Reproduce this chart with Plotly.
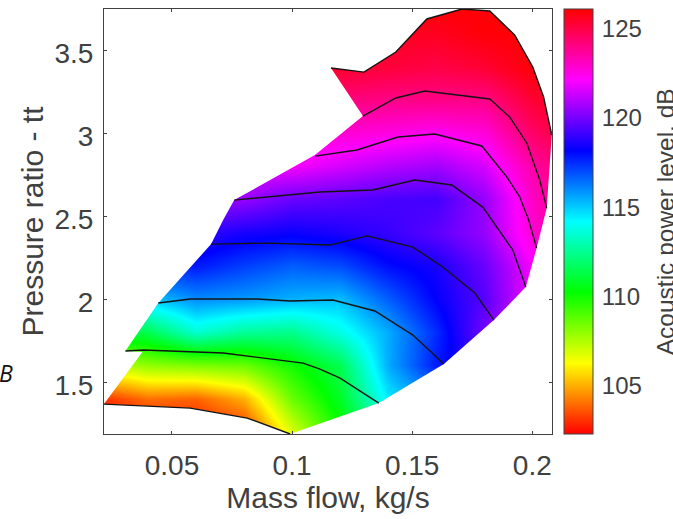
import plotly.graph_objects as go

TEXT = "#404040"
FONT = "Liberation Sans, Arial, sans-serif"

mass_flow_grid = [0.02, 0.04, 0.06, 0.08, 0.10, 0.12, 0.14, 0.16, 0.18, 0.20, 0.21]
pressure_grid = [1.2, 1.4, 1.6, 1.8, 2.0, 2.2, 2.4, 2.6, 2.8, 3.0, 3.2, 3.4, 3.6, 3.75]
power_level = [
    [102.5, 102.5, 102.5, 103.0, 106.8, 110.0, 112.0, 114.0, 116.0, 118.0, 120.0],
    [103.0, 104.0, 103.8, 105.0, 108.6, 110.8, 114.5, 116.0, 118.0, 120.0, 122.0],
    [107.0, 108.0, 108.3, 108.6, 110.0, 111.5, 115.5, 117.8, 119.0, 121.0, 122.5],
    [111.0, 111.5, 113.5, 112.6, 112.4, 113.8, 115.5, 117.5, 120.0, 122.0, 123.0],
    [114.0, 115.0, 116.0, 115.8, 115.4, 115.2, 116.7, 118.2, 119.5, 122.0, 123.0],
    [117.0, 117.5, 117.8, 117.2, 116.7, 117.0, 118.0, 118.5, 119.8, 122.0, 123.0],
    [119.0, 119.0, 119.0, 118.5, 118.3, 118.6, 119.0, 119.6, 120.5, 122.8, 123.5],
    [121.0, 120.5, 120.5, 120.5, 119.8, 119.6, 119.3, 119.2, 120.5, 123.0, 124.0],
    [122.0, 122.0, 122.0, 122.0, 122.0, 121.5, 121.0, 120.7, 121.5, 123.5, 124.2],
    [123.0, 123.0, 123.0, 123.0, 123.0, 122.8, 122.6, 122.3, 122.7, 124.5, 125.0],
    [124.0, 124.0, 124.0, 124.0, 124.0, 124.2, 124.0, 124.0, 124.0, 125.3, 125.5],
    [125.4, 125.4, 125.4, 125.4, 125.4, 125.4, 125.2, 125.0, 125.3, 126.0, 126.0],
    [125.6, 125.6, 125.6, 125.6, 125.6, 125.6, 125.6, 125.6, 126.0, 126.0, 126.0],
    [126.0, 126.0, 126.0, 126.0, 126.0, 126.0, 126.0, 126.0, 126.0, 126.0, 126.0],
]

# outline of the operating map
map_x = [0.0217, 0.0576, 0.0813, 0.0992, 0.1361, 0.1632, 0.1840, 0.1973, 0.2018, 0.2060,
         0.2081, 0.2047, 0.2002, 0.1927, 0.1823, 0.1707, 0.1561, 0.1432, 0.1299, 0.1162,
         0.1295, 0.1158, 0.1095, 0.0759, 0.0713, 0.0663, 0.0443, 0.0306, 0.0377, 0.0217]
map_y = [1.367, 1.343, 1.283, 1.187, 1.373, 1.608, 1.873, 2.072, 2.307, 2.548,
         2.988, 3.217, 3.398, 3.590, 3.735, 3.747, 3.687, 3.488, 3.367, 3.392,
         3.102, 2.940, 2.867, 2.596, 2.476, 2.331, 1.976, 1.687, 1.681, 1.367]

contours = [
    ([0.0217, 0.0576, 0.0813, 0.0992], [1.367, 1.343, 1.283, 1.187]),
    ([0.0306, 0.0381, 0.0713, 0.1046, 0.1116, 0.1200, 0.1361],
     [1.687, 1.693, 1.675, 1.614, 1.578, 1.524, 1.373]),
    ([0.0443, 0.0576, 0.0855, 0.0992, 0.1170, 0.1345, 0.1503, 0.1632],
     [1.976, 2.000, 2.000, 1.988, 1.994, 1.928, 1.783, 1.608]),
    ([0.0663, 0.0909, 0.1158, 0.1312, 0.1503, 0.1627, 0.1761, 0.1840],
     [2.331, 2.337, 2.325, 2.380, 2.313, 2.193, 2.036, 1.873]),
    ([0.0759, 0.1116, 0.1336, 0.1511, 0.1665, 0.1794, 0.1919, 0.1973],
     [2.596, 2.645, 2.657, 2.717, 2.687, 2.554, 2.295, 2.072]),
    ([0.1096, 0.1270, 0.1441, 0.1594, 0.1790, 0.1894, 0.1948, 0.1985, 0.2018],
     [2.861, 2.898, 2.976, 2.994, 2.922, 2.735, 2.614, 2.476, 2.307]),
    ([0.1295, 0.1432, 0.1553, 0.1823, 0.1906, 0.1977, 0.2031, 0.2060],
     [3.102, 3.211, 3.253, 3.205, 3.096, 2.940, 2.717, 2.548]),
    ([0.2081, 0.2047, 0.2002, 0.1927, 0.1823, 0.1707, 0.1561, 0.1432, 0.1299, 0.1162],
     [2.988, 3.217, 3.398, 3.590, 3.735, 3.747, 3.687, 3.488, 3.367, 3.392]),
]

x_range = [0.0217, 0.2082]
y_range = [1.187, 3.747]
z_range = [102.3, 126.1]
x_ticks = [0.05, 0.1, 0.15, 0.2]
x_labels = ["0.05", "0.1", "0.15", "0.2"]
y_ticks = [1.5, 2, 2.5, 3, 3.5]
y_labels = ["1.5", "2", "2.5", "3", "3.5"]
bar_ticks = [105, 110, 115, 120, 125]
hue_scale = [[0, "#ff0000"], [1/6, "#ffff00"], [2/6, "#00ff00"], [3/6, "#00ffff"],
             [4/6, "#0000ff"], [5/6, "#ff00ff"], [1, "#ff0000"]]

bar_left = (565 - 103.5) / 449
bar_right = (593.5 - 103.5) / 449

fig = go.Figure()
fig.add_trace(go.Heatmap(
    x=mass_flow_grid, y=pressure_grid, z=power_level, zsmooth="best",
    zmin=z_range[0], zmax=z_range[1], colorscale=hue_scale,
    colorbar=dict(
        x=bar_left, xanchor="left", xpad=0, y=0.5, yanchor="middle", ypad=0,
        len=1, lenmode="fraction", thickness=29, thicknessmode="pixels",
        outlinewidth=1, outlinecolor=TEXT, tickvals=bar_ticks, ticks="outside", ticklen=4,
        tickcolor="rgba(0,0,0,0)", tickfont=dict(family=FONT, size=24, color=TEXT),
    ),
))

# white surround: outside of the axes box, with the map outline as a hole
mask_x = map_x + [x_range[0], x_range[0], x_range[1], x_range[1], x_range[0], x_range[0]]
mask_y = map_y + [map_y[-1], y_range[1], y_range[1], y_range[0], y_range[0], map_y[-1]]
fig.add_trace(go.Scatter(x=mask_x, y=mask_y, mode="lines", line=dict(width=0),
                         fill="toself", fillcolor="white", hoverinfo="skip", showlegend=False))

for cx, cy in contours:
    fig.add_trace(go.Scatter(x=cx, y=cy, mode="lines", line=dict(color="#141414", width=1.4),
                             hoverinfo="skip", showlegend=False))

axis_style = dict(showgrid=False, zeroline=False, showline=True, linecolor=TEXT, linewidth=1,
                  mirror="allticks", ticks="inside", ticklen=3, tickcolor=TEXT,
                  tickfont=dict(family=FONT, size=28, color=TEXT))
# inward tick marks on the colour bar, placed by value
bar_marks = [dict(type="line", xref="paper", yref="paper",
                  x0=bar_right - 3 / 449, x1=bar_right,
                  y0=(v - z_range[0]) / (z_range[1] - z_range[0]),
                  y1=(v - z_range[0]) / (z_range[1] - z_range[0]),
                  line=dict(color=TEXT, width=1)) for v in bar_ticks]
fig.update_layout(
    width=673, height=519, autosize=False, paper_bgcolor="white", plot_bgcolor="white",
    margin=dict(l=103.5, r=120.5, t=9, b=85),
    showlegend=False, shapes=bar_marks,
    xaxis=dict(range=x_range, tickvals=x_ticks, ticktext=x_labels, ticklabelstandoff=6,
               title=dict(text="Mass flow, kg/s", standoff=6,
                          font=dict(family=FONT, size=30, color=TEXT)), **axis_style),
    yaxis=dict(range=y_range, tickvals=y_ticks, ticktext=y_labels, ticklabelstandoff=4,
               ticklabelshift=3,
               title=dict(text="Pressure ratio - tt", standoff=1,
                          font=dict(family=FONT, size=30, color=TEXT)), **axis_style),
    annotations=[
        dict(text="Acoustic power level, dB", xref="paper", yref="paper",
             x=(666 - 103.5) / 449, y=(434 - 222) / 425, xanchor="center", yanchor="middle",
             textangle=-90, showarrow=False, font=dict(family=FONT, size=24.5, color=TEXT)),
        dict(text="<i>B</i>", xref="paper", yref="paper",
             x=(5 - 103.5) / 449, y=(434 - 373) / 425, xanchor="center", yanchor="middle",
             showarrow=False, font=dict(family="Open Sans", size=23, color="#111111")),
    ],
)
fig.write_html("out.html", config={"displayModeBar": False},
               post_script="document.body.style.margin='0';")
